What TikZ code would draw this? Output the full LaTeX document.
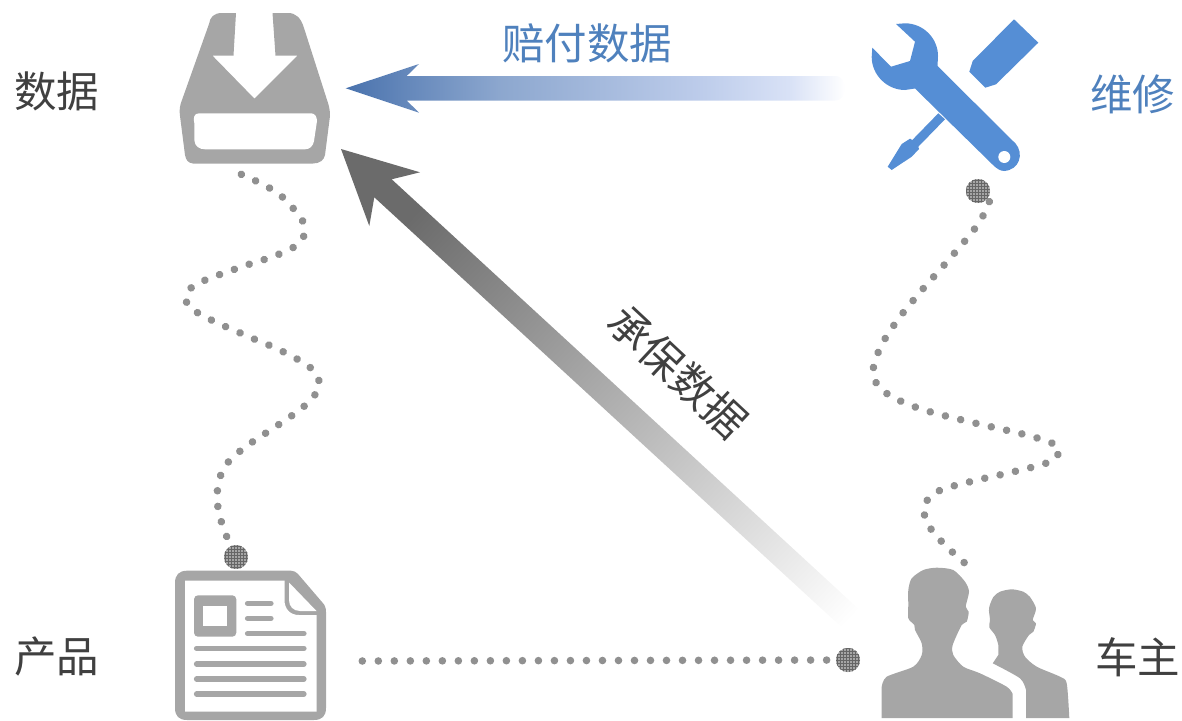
\documentclass[tikz,border=0pt]{standalone}
\usepackage{fontspec}
\usepackage{tikz}
\usetikzlibrary{patterns}
\newfontfamily\cjk{Noto Sans CJK SC}
\definecolor{icongray}{HTML}{A6A6A6}
\definecolor{iconblue}{HTML}{558ED5}
\definecolor{textblue}{HTML}{4F81BD}
\definecolor{textdark}{HTML}{404040}
\definecolor{dotgray}{HTML}{909090}
% fades of the two arrows
\pgfdeclarehorizontalshading{payfade}{100bp}{rgb(0bp)=(0.29,0.45,0.68); rgb(25bp)=(0.29,0.45,0.68); rgb(40.4bp)=(0.55,0.655,0.81); rgb(60.5bp)=(0.74,0.80,0.92); rgb(69.5bp)=(0.85,0.885,0.965); rgb(75bp)=(1,1,1); rgb(100bp)=(1,1,1)}
\pgfdeclareverticalshading{uwfade}{100bp}{rgb(0bp)=(1,1,1); rgb(18bp)=(1,1,1); rgb(76bp)=(0.42,0.42,0.42); rgb(100bp)=(0.42,0.42,0.42)}
\tikzset{
  labeltext/.style={font=\cjk\fontsize{42.5}{48}\selectfont, text=textdark, inner sep=0pt},
  bluetext/.style={labeltext, text=textblue},
  dotline/.style={draw=dotgray, line width=7.6pt, line cap=round, dash pattern=on 0.01pt off 15.7pt},
  bigdot/.style={circle, minimum size=24pt, inner sep=0pt, preaction={fill=icongray}, pattern=grid, pattern color=black!60},
  docline/.style={draw=icongray, line width=5.2pt, line cap=round},
}
\begin{document}
\begin{tikzpicture}[x=1pt,y=-1pt]
\useasboundingbox (0,0) rectangle (1182,720);

% data icon
\fill[icongray] (236,13) -- (222,13) .. controls (214,13) and (210,17) .. (209,24) -- (182,100) .. controls (180,105) and (179,110) .. (180,116) -- (185,155) .. controls (186,160) and (188,163) .. (193,163.5) -- (313,163.5) .. controls (320,163.5) and (324,160) .. (325,155) -- (330,116) .. controls (330,110) and (329,106) .. (328,103) -- (304,28) .. controls (301,18) and (296,13) .. (288,13) -- (272.5,13) -- (275.5,55.7) -- (297.5,55.7) -- (254.5,98.7) -- (212.5,55.7) -- (233.5,55.7) -- cycle;
\fill[white] (199,113.3) -- (311,113.3) .. controls (315,113.3) and (317,117) .. (317,121) -- (314,141) .. controls (313,146) and (310,149.3) .. (305,149.3) -- (205,149.3) .. controls (199,149.3) and (195,146) .. (194.5,141) -- (194.3,123) .. controls (193,118) and (194,113.3) .. (199,113.3) -- cycle;

% repair icon
\fill[iconblue] (896,24) -- (905,23.3) .. controls (923,23.3) and (938,38) .. (938,56) -- (937.5,66) -- (1015.5,143.5) .. controls (1024,153) and (1020,170) .. (1004,171) .. controls (1000,171) and (996,168) .. (993,165) -- (915,88.5) -- (905,90) .. controls (887,90) and (871.7,75) .. (871.7,57) -- (872.3,47.7) -- (891,66.7) -- (910,61) -- (915,41.7) -- cycle;
\fill[white] (1004.3,157) circle (6);
\fill[iconblue] (1014,19.3) -- (1038.3,42.7) -- (996,84.3) -- (985.3,87.7) -- (969.3,71.7) -- (972.7,61) -- cycle;
\fill[iconblue] (938.3,113.3) -- (945,119.3) -- (918.3,146.7) -- (919,149) -- (911.7,156.7) -- (891.7,170) -- (887.7,166.7) -- (901.7,144) -- (910,138.7) -- (912.3,140) -- cycle;

% product icon
\fill[icongray] (187,570.7) -- (291,570.7) .. controls (294,570.7) and (296,572) .. (298,574) -- (322,602) .. controls (325,605) and (326,608) .. (326,612) -- (326,708) .. controls (326,716) and (322,720) .. (314,720) -- (187,720) .. controls (179,720) and (175,716) .. (175,708) -- (175,583) .. controls (175,575) and (179,570.7) .. (187,570.7) -- cycle;
\fill[white] (185,580.7) -- (284.5,580.7) -- (284.5,600) .. controls (284.5,609) and (290,615) .. (299,615) -- (316.5,615) -- (316.5,711.5) -- (185,711.5) -- cycle;
\fill[white] (289,582.5) -- (316.5,611) -- (300,611) .. controls (293,611) and (289,606) .. (289,600) -- cycle;
\fill[icongray, rounded corners=4pt] (194,595.3) rectangle (236.3,636.7);
\fill[white] (203.3,606) rectangle (227,626);
\foreach \ypos/\xend in {603.3/271, 618.3/271, 633.7/304}
  \draw[docline] (247.5,\ypos) -- (\xend,\ypos);
\foreach \ypos in {648.3, 664, 679, 694}
  \draw[docline] (196.5,\ypos) -- (304,\ypos);

% owner icon
\fill[icongray] (881.7,718) -- plot[smooth,tension=.45] coordinates {(881.7,686.7) (886.7,676.7) (913.3,666.7) (921.7,655) (921.7,643.3) (915,630) (914.3,625) (908.3,618.3) (908.3,605) (908.3,590) (911.7,578.3) (923.3,570) (936.7,567.7) (953.3,570) (965,581.7) (969,591.7) (965.7,606.7) (968.7,611.7) (966.7,621.7) (961.7,625) (952.7,645) (953.3,655) (963.3,666.7) (980,673.3) (1006.7,686.7) (1012.7,694)} -- (1012.7,718) -- cycle;
\fill[icongray] (992.7,663.3) -- plot[smooth,tension=.45] coordinates {(998.3,655) (998.3,645) (995,635) (989.3,627.3) (990,620) (989,608.3) (993.3,597) (1000,591.7) (1011.7,589.3) (1023.3,591.7) (1030,597) (1036,608.3) (1032.7,620) (1036,623.3) (1033.3,631.7) (1029,635) (1022.3,646.7) (1025,656.7) (1036.7,666.7) (1060,676.7) (1066.7,683.3) (1069.3,718)} -- (1026,718) -- plot[smooth,tension=.45] coordinates {(1026,690) (1020,678.3) (992.7,663.3)} -- cycle;

% shaded arrows
\shade[shading=payfade] (345.7,88.3) -- (419,64) -- (406.7,76) -- (835,76) .. controls (842,76) and (845,82) .. (845,88) .. controls (845,95) and (842,100.5) .. (835,100.5) -- (406.7,100.5) -- (419,112.7) -- cycle;
\shade[shading=uwfade, shading angle=47] (341,149) -- (420,172.3) -- (391.7,179.3) -- (875,624) -- (862,646) -- (374.3,197.3) -- (369.3,226) -- cycle;

% hubs on the dotted lines
\node[bigdot] (prodhub) at (236,557) {};
\node[bigdot] (fixhub) at (978,191) {};
\node[bigdot] (ownerhub) at (848,660) {};
\coordinate (dataend) at (241.3,174.3);
\coordinate (prodend) at (362.3,661);
\coordinate (ownerend) at (971,568.7);

% dotted lines
\draw[dotline] plot[smooth,tension=.5] coordinates {(dataend) (256,181) (270,188.3) (283.3,197.7) (294,209.3) (303.3,222.3) (303.3,237.7) (292,248.3) (277,255) (262,260.3) (246.7,265) (231.7,270.3) (216.7,275.7) (201.7,281.7) (188.7,290.3) (187,304.3) (199.7,314) (214,321.3) (228.7,328) (243.3,334.3) (258,340.7) (272.7,346.7) (287,353.7) (301.3,361.5) (314,371) (319.7,385) (312,398.7) (300,409.7) (287,419) (274,427.7) (260.3,436.7) (247,445.7) (234.7,455.7) (224,467.3) (218.7,482.3) (217,498.3) (219.3,514.3) (224,529.7) (230,544) (prodhub)};
\draw[dotline] plot[smooth,tension=.5] coordinates {(fixhub) (989.3,201.7) (982.7,216.3) (974,229.7) (964,242) (953.7,254) (943,266.3) (932.3,278.3) (921.7,290.3) (911.3,302.7) (901.3,315) (892,328) (883.3,341.7) (876.7,356) (873,371.7) (878,386.3) (890.7,396) (905,403) (920,408.7) (935.3,413.3) (951,417.3) (966.3,421) (982,424.7) (997.7,428.3) (1013,431.7) (1029,435.7) (1044.3,440.3) (1058.7,447) (1055.3,459) (1040.3,465) (1025,469) (1009.3,472.7) (993.7,476.3) (978,479.7) (962.7,483.7) (947.3,487.7) (932.7,494.3) (923.7,507) (927,522.7) (936.3,535.7) (947.3,547.3) (959,558) (ownerend)};
\draw[dotline, dash pattern=on 0.01pt off 16pt] (prodend) -- (ownerhub);
\node[bigdot] at (prodhub) {};
\node[bigdot] at (fixhub) {};
\node[bigdot] at (ownerhub) {};

% labels
\node[labeltext] (datalabel) at (56.5,91) {数据};
\node[labeltext] (prodlabel) at (56.5,656) {产品};
\node[labeltext] (ownerlabel) at (1137.5,657) {车主};
\node[bluetext] (fixlabel) at (1132.5,94) {维修};
\node[bluetext] (paylabel) at (587,43) {赔付数据};
\node[labeltext, rotate=-43] (uwlabel) at (678,372) {承保数据};
\end{tikzpicture}
\end{document}
